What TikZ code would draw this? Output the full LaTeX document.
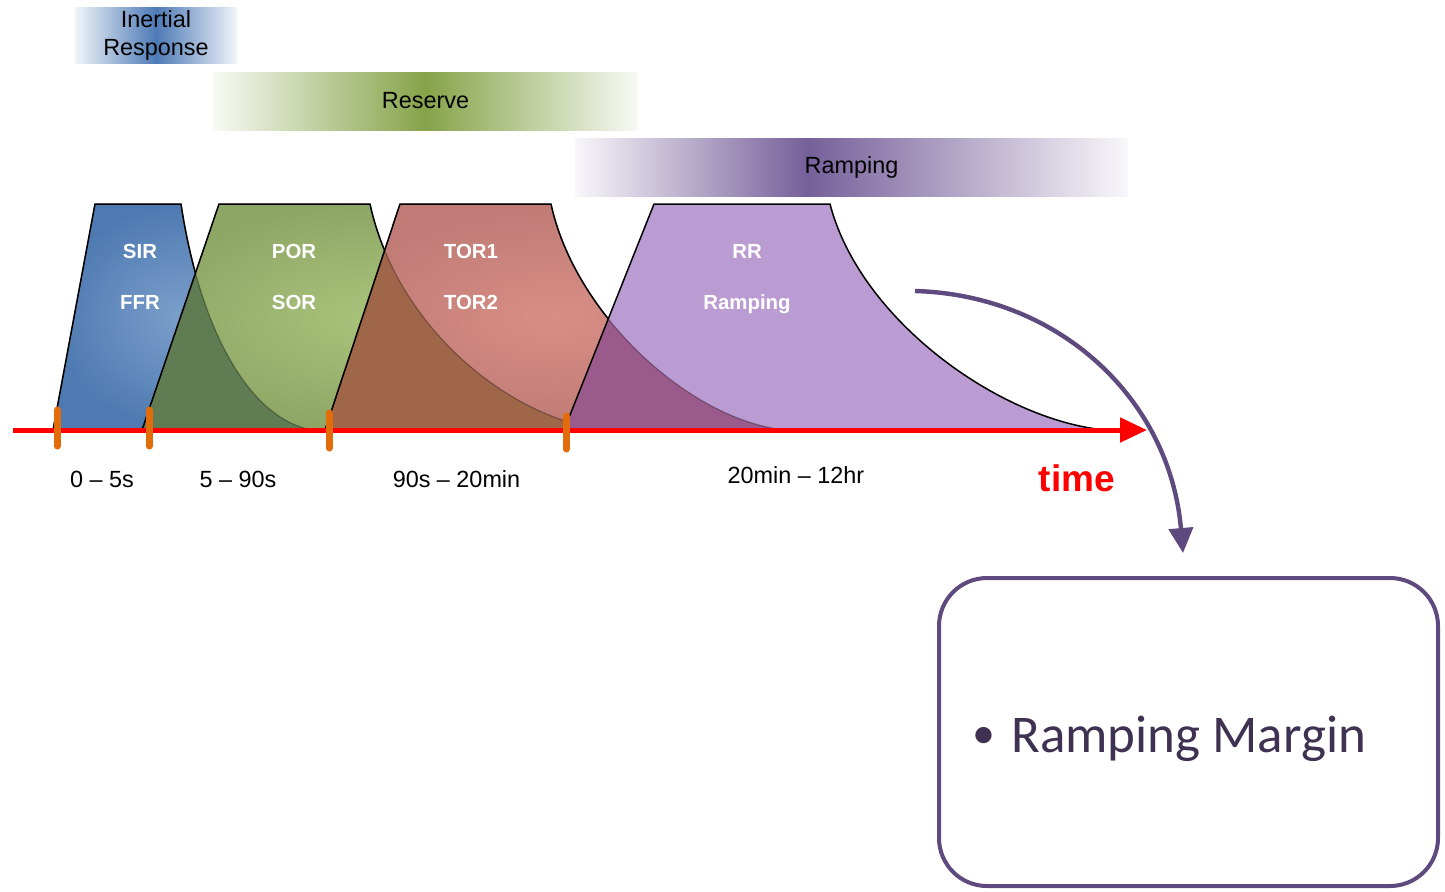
\documentclass[tikz,border=0pt]{standalone}
\usepackage{fontspec}
\setmainfont{Liberation Sans}
\newfontfamily\calibri{Carlito}
\usetikzlibrary{arrows.meta}

\definecolor{sirblue}{HTML}{4E7AB1}
\definecolor{sirlight}{HTML}{7C9FCB}
\definecolor{porgreen}{HTML}{8EA665}
\definecolor{porlight}{HTML}{A9C37B}
\definecolor{torred}{HTML}{C07B76}
\definecolor{torlight}{HTML}{D78E85}
\definecolor{rrpurple}{HTML}{BB9CD2}
\definecolor{bgmix}{HTML}{5F7C53}
\definecolor{grmix}{HTML}{A0664A}
\definecolor{rpmix}{HTML}{9A5A8B}
\definecolor{inertc}{HTML}{4D7AB6}
\definecolor{reservec}{HTML}{86A349}
\definecolor{rampc}{HTML}{76609A}
\definecolor{tickorange}{HTML}{E26B0A}
\definecolor{arrowpurple}{HTML}{5E4A7E}
\definecolor{margintext}{HTML}{3F3151}

\pgfdeclarehorizontalshading{rampband}{100bp}{color(0bp)=(white!95!rampc); color(25bp)=(white!95!rampc); color(46bp)=(rampc); color(75bp)=(white!95!rampc); color(100bp)=(white!95!rampc)}

% outlines of the four response shapes (open at the bottom)
\newcommand\sirline{(53,430) -- (95,204) -- (181,204) .. controls (200,330) and (250,420) .. (313,430)}
\newcommand\porline{(142,430) -- (219,204) -- (370,204) .. controls (395,320) and (500,415) .. (603,430)}
\newcommand\torline{(325,430) -- (400,204) -- (551,204) .. controls (575,315) and (690,420) .. (785,430)}
\newcommand\rrline{(564,430) -- (654,204) -- (830,204) .. controls (860,320) and (1000,420) .. (1105,430)}

\tikzset{
  band/.style={inner sep=0pt, align=center, font=\fontsize{11.7}{14}\selectfont},
  shapelabel/.style={anchor=base, text=white, font=\fontsize{10.2}{12}\selectfont\bfseries},
  axislabel/.style={anchor=base, font=\fontsize{11.7}{14}\selectfont},
  outline/.style={line width=0.75pt, line join=round},
  ghost/.style={line width=0.6pt, black, opacity=0.3},
  tickmark/.style={line width=3.5pt, line cap=round, tickorange}
}

\begin{document}
\begin{tikzpicture}[x=0.5pt,y=-0.5pt]
  \useasboundingbox (0,0) rectangle (1445,891);

  % bands at the top
  \node[band, minimum width=81pt, minimum height=28pt, left color=white!92!inertc, right color=white!92!inertc, middle color=inertc] (inertial) at (156,35) {Inertial\\Response};
  \node[band, minimum width=212.5pt, minimum height=29pt, left color=white!94!reservec, right color=white!94!reservec, middle color=reservec] (reserve) at (425.5,101) {Reserve};
  \node[band, minimum width=276.5pt, minimum height=29pt, shade, shading=rampband, shading angle=0] (ramping) at (851.5,167) {Ramping};

  % SIR / FFR
  \shade[inner color=sirlight, outer color=sirblue] \sirline -- cycle;
  \draw[outline] \sirline;

  % POR / SOR
  \shade[inner color=porlight, outer color=porgreen] \porline -- cycle;
  \begin{scope}
    \clip \sirline -- cycle;
    \fill[bgmix] \porline -- cycle;
  \end{scope}
  \draw[ghost] \sirline;
  \draw[outline] \porline;

  % TOR1 / TOR2
  \shade[inner color=torlight, outer color=torred] \torline -- cycle;
  \begin{scope}
    \clip \porline -- cycle;
    \fill[grmix] \torline -- cycle;
  \end{scope}
  \draw[ghost] \porline;
  \draw[outline] \torline;

  % RR / Ramping
  \fill[rrpurple] \rrline -- cycle;
  \begin{scope}
    \clip \torline -- cycle;
    \fill[rpmix] \rrline -- cycle;
  \end{scope}
  \draw[ghost] \torline;
  \draw[outline] \rrline;

  % labels inside the shapes
  \node[shapelabel] (sir) at (140,258.5) {SIR};
  \node[shapelabel] (ffr) at (140,309.5) {FFR};
  \node[shapelabel] (por) at (294,258.5) {POR};
  \node[shapelabel] (sor) at (294,309.5) {SOR};
  \node[shapelabel] (tor1) at (471,258.5) {TOR1};
  \node[shapelabel] (tor2) at (471,309.5) {TOR2};
  \node[shapelabel] (rr) at (747,258.5) {RR};
  \node[shapelabel] (rramp) at (747,309.5) {Ramping};

  % time axis
  \coordinate (axstart) at (13,430);
  \coordinate (axend) at (1147,430);
  \draw[red, line width=2.5pt, -{Triangle[length=13.5pt,width=12pt]}] (axstart) -- (axend);
  \foreach \x/\ya/\yb in {57/410/446, 149/410/446, 329/413/448, 566/416/449}
    \draw[tickmark] (\x,\ya) -- (\x,\yb);

  % time spans
  \node[axislabel] (span1) at (102,487.5) {0 -- 5s};
  \node[axislabel] (span2) at (238,487.5) {5 -- 90s};
  \node[axislabel] (span3) at (456.5,487.5) {90s -- 20min};
  \node[axislabel] (span4) at (796,483.5) {20min -- 12hr};
  \node[anchor=base, text=red, font=\fontsize{18.5}{20}\selectfont\bfseries] (time) at (1077,491) {time};

  % ramping margin box
  \node[draw=arrowpurple, line width=2pt, rounded corners=24pt, minimum width=249.5pt, minimum height=154pt] (margin) at (1188.5,732) {};
  \node[anchor=base west, inner sep=0pt, text=margintext, font=\calibri\fontsize{26.5}{30}\selectfont] (margintxt) at (972,752) {\raisebox{2pt}{\fontsize{23}{23}\selectfont\textbullet}\hspace{8pt}Ramping Margin};

  % bent arrow to the box
  \coordinate (arrstart) at (915,291);
  \coordinate (arrend) at (1183,553);
  \draw[arrowpurple, line width=2.2pt, -{Triangle[length=12.5pt,width=12pt]}] (arrstart) .. controls (1060,295) and (1170,400) .. (arrend);
\end{tikzpicture}
\end{document}
